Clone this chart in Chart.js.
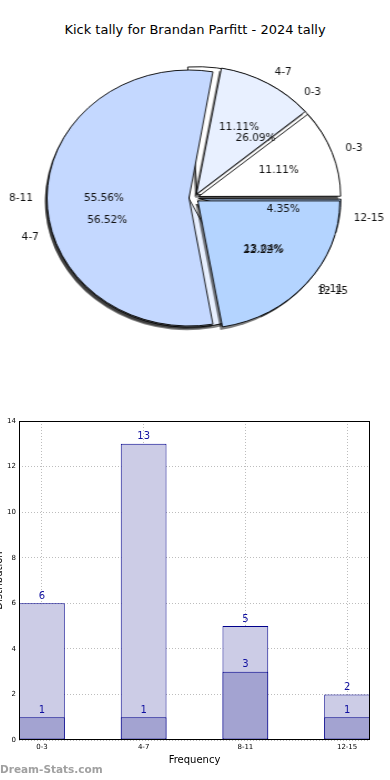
<!DOCTYPE html>
<html><head><meta charset="utf-8">
<script src="https://cdn.jsdelivr.net/npm/chart.js@4"></script>
<style>
html,body{margin:0;padding:0;background:#fff;width:390px;height:780px;overflow:hidden;position:relative;font-family:"DejaVu Sans",sans-serif;}
#title{position:absolute;left:0;top:21px;width:390px;text-align:center;font-size:13px;line-height:18px;color:#000;}
#pieWrap{position:absolute;left:19px;top:48px;width:350px;height:300px;transform:scaleX(1.109);transform-origin:175px 150px;}
#pieWrap canvas{position:absolute;left:0;top:0;}
#bar{position:absolute;left:0;top:410px;}
</style></head><body>
<div id="title">Kick tally for Brandan Parfitt - 2024 tally</div>
<div id="pieWrap"><canvas id="pie1" width="350" height="300"></canvas><canvas id="pie2" width="350" height="300"></canvas></div>
<canvas id="bar" width="390" height="370"></canvas>
<script>
const categories = ['0-3','4-7','8-11','12-15'];
const pieBackValues = [6,13,3,1];
const pieFrontValues = [1,1,5,2];
const barTotal = [6,13,5,2];
const barPart = [1,1,3,1];
const yTicks = [0,2,4,6,8,10,12,14];
const sliceColors = ['#ffffff','#e8f0ff','#c4d8ff','#b4d4ff'];

Chart.defaults.font.family = "'DejaVu Sans', sans-serif";
const SX = 1.109;
const PIE_R = 128;

function arcShift(arc){return (arc.options.offset||0)/4;}

const pieHelpers = {
  id:'pieHelpers',
  afterDatasetUpdate(chart, args){
    args.meta.data.forEach(arc=>{
      const fix = 1 - Math.sin(Math.min(Math.PI, arc.circumference||0));
      arc.outerRadius = PIE_R - arcShift(arc)*fix;
    });
  },
  beforeDatasetsDraw(chart){
    const c=chart.ctx; const meta=chart.getDatasetMeta(0);
    c.save(); c.fillStyle='rgba(0,0,0,0.5)';
    meta.data.forEach(arc=>{
      const mid=(arc.startAngle+arc.endAngle)/2, d=arcShift(arc);
      const x=arc.x+Math.cos(mid)*d-2, y=arc.y+Math.sin(mid)*d+3;
      c.beginPath(); c.moveTo(x,y); c.arc(x,y,PIE_R,arc.startAngle,arc.endAngle); c.closePath(); c.fill();
    });
    c.restore();
  }
};

function pieConfig(values, extraPlugins){
  return {
    type:'pie',
    data:{labels:categories.slice().reverse(),
      datasets:[{data:values.slice().reverse(), backgroundColor:sliceColors.slice().reverse(),
        borderColor:'#000', borderWidth:0.9, offset:18, radius:PIE_R, clip:false}]},
    options:{responsive:false, animation:false, rotation:90, radius:PIE_R, events:[],
      layout:{padding:0}, plugins:{legend:{display:false}, tooltip:{enabled:false}}},
    plugins:[pieHelpers].concat(extraPlugins||[])
  };
}

function drawPieLabels(chart, ctx){
  const meta = chart.getDatasetMeta(0);
  const ds = chart.data.datasets[0];
  const total = ds.data.reduce((a,b)=>a+b,0);
  ctx.fillStyle = '#111';
  ctx.font = "10.5px 'DejaVu Sans', sans-serif";
  meta.data.forEach((arc,i)=>{
    const mid=(arc.startAngle+arc.endAngle)/2;
    const d=arcShift(arc);
    const cs=Math.cos(mid), sn=Math.sin(mid);
    const put=(text,dist,align)=>{
      const x=arc.x+cs*(d+dist), y=arc.y+sn*(d+dist);
      ctx.save();ctx.translate(x,y);ctx.scale(1/SX,1);
      ctx.textAlign=align;ctx.textBaseline='middle';ctx.fillText(text,0,0);ctx.restore();
    };
    put(chart.data.labels[i], 1.1*PIE_R, cs>=0?'left':'right');
    put((ds.data[i]/total*100).toFixed(2)+'%', 0.6*PIE_R, 'center');
  });
}

const pieBack = new Chart(document.getElementById('pie1'), pieConfig(pieBackValues));
const labelPlugin = {id:'pieLabels', afterDraw(chart){const c=chart.ctx;c.save();drawPieLabels(pieBack,c);drawPieLabels(chart,c);c.restore();}};
const pieFront = new Chart(document.getElementById('pie2'), pieConfig(pieFrontValues,[labelPlugin]));

const barExtras = {
  id:'barExtras',
  afterDatasetsDraw(chart){
    const c=chart.ctx; c.save();
    c.font="10px 'DejaVu Sans', sans-serif"; c.fillStyle='#1010a0'; c.textAlign='center'; c.textBaseline='middle';
    [1,0].forEach(di=>{
      const meta=chart.getDatasetMeta(di);
      meta.data.forEach((el,i)=>{ c.fillText(String(chart.data.datasets[di].data[i].y), el.x, el.y-7); });
    });
    c.restore();
  },
  afterDraw(chart){
    const c=chart.ctx, a=chart.chartArea; c.save();
    c.strokeStyle='#000'; c.lineWidth=1;
    c.strokeRect(a.left+0.5,a.top+0.5,a.right-a.left-1,a.bottom-a.top-1);
    c.fillStyle='#000'; c.font="10px 'DejaVu Sans', sans-serif";
    c.translate(-1,(a.top+a.bottom)/2); c.rotate(-Math.PI/2);
    c.textAlign='center'; c.textBaseline='middle'; c.fillText('Distribution',0,0);
    c.restore();
    c.save();
    c.fillStyle='#a0a0a0'; c.font="bold 10.5px 'DejaVu Sans', sans-serif";
    c.textAlign='left'; c.textBaseline='middle'; c.fillText('Dream-Stats.com',0,360);
    c.restore();
  }
};

const gridCommon = {color:'#bdbdbd', drawTicks:false, lineWidth:1, offset:false};
new Chart(document.getElementById('bar'), {
  type:'bar',
  data:{datasets:[
    {label:'part', data:barPart.map((v,i)=>({x:i,y:v})), backgroundColor:'#a3a3d1', borderColor:'#00008b', borderWidth:1, borderSkipped:false, grouped:false, order:1, barPercentage:0.45, categoryPercentage:1},
    {label:'total', data:barTotal.map((v,i)=>({x:i,y:v})), backgroundColor:'#ccccE6', borderColor:'#00008b', borderWidth:1, borderSkipped:false, grouped:false, order:2, barPercentage:0.45, categoryPercentage:1}
  ]},
  options:{responsive:false, animation:false, events:[],
    layout:{padding:{top:11,right:20,left:0,bottom:0}},
    plugins:{legend:{display:false}, tooltip:{enabled:false}},
    scales:{
      x:{type:'linear', min:-0.225, max:3.225, offset:false,
        afterBuildTicks:s=>{s.ticks=categories.map((c,i)=>({value:i}));},
        ticks:{callback:v=>categories[v], font:{size:7}, color:'#000', padding:3, autoSkip:false, maxRotation:0},
        grid:gridCommon, border:{display:false, dash:[1,2]},
        title:{display:true, text:'Frequency', font:{size:10}, color:'#000', padding:{top:0,bottom:14}},
        afterFit:s=>{s.height=40;}},
      y:{min:0, max:14,
        afterBuildTicks:s=>{s.ticks=yTicks.map(v=>({value:v}));},
        ticks:{font:{size:7}, color:'#000', padding:3},
        grid:gridCommon, border:{display:false, dash:[1,2]},
        afterFit:s=>{s.width=19;}}
    }},
  plugins:[barExtras]
});
</script>
</body></html>
